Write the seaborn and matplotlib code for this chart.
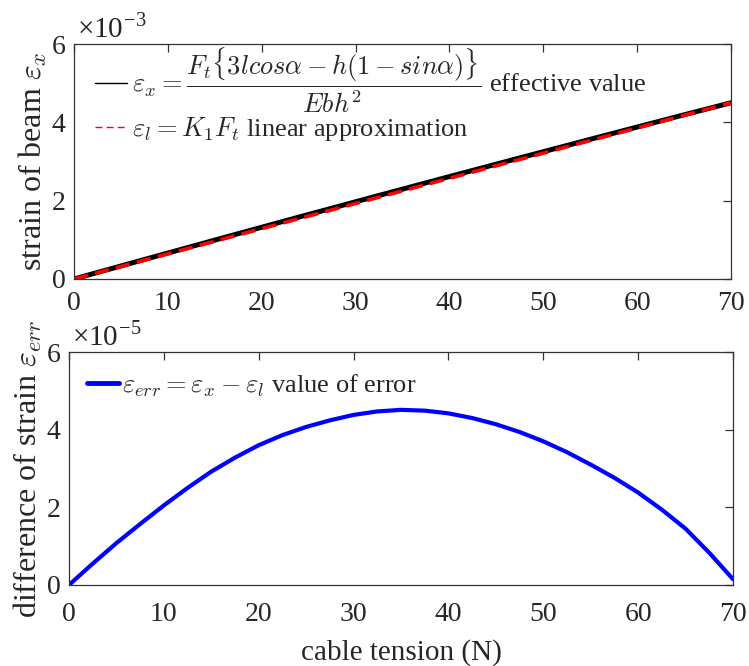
import numpy as np
import pandas as pd
import seaborn as sns
import matplotlib
matplotlib.use("Agg")
import matplotlib.pyplot as plt
from matplotlib.ticker import FuncFormatter

# ---- data ----
tension = [0, 2.5, 5, 7.5, 10, 12.5, 15, 17.5, 20, 22.5, 25, 27.5, 30, 32.5, 35,
           37.5, 40, 42.5, 45, 47.5, 50, 52.5, 55, 57.5, 60, 62.5, 65, 67.5, 70]
# strain values in units of 1e-3
strain_effective_e3 = [0.000, 0.167, 0.332, 0.498, 0.663, 0.828, 0.993, 1.158,
                       1.321, 1.485, 1.648, 1.809, 1.972, 2.134, 2.294, 2.455,
                       2.615, 2.774, 2.933, 3.092, 3.250, 3.408, 3.566, 3.723,
                       3.880, 4.036, 4.192, 4.346, 4.500]
strain_linear_e3 = [0.000, 0.161, 0.321, 0.482, 0.643, 0.803, 0.964, 1.125,
                    1.285, 1.446, 1.607, 1.767, 1.928, 2.089, 2.249, 2.410,
                    2.571, 2.731, 2.892, 3.053, 3.213, 3.374, 3.535, 3.695,
                    3.856, 4.017, 4.177, 4.338, 4.499]
# strain difference in units of 1e-5
strain_error_e5 = [0.00, 0.55, 1.08, 1.57, 2.05, 2.50, 2.92, 3.28, 3.60, 3.86,
                   4.07, 4.24, 4.38, 4.47, 4.51, 4.49, 4.42, 4.30, 4.14, 3.94,
                   3.70, 3.42, 3.10, 2.76, 2.38, 1.94, 1.45, 0.83, 0.15]

xticks = [0, 10, 20, 30, 40, 50, 60, 70]
yticks = [0, 2, 4, 6]

label_eff = (r"$\varepsilon_x=\dfrac{F_t\{3lcos\alpha-h(1-sin\alpha)\}}{Ebh^2}$"
             " effective value")
label_lin = r"$\varepsilon_l=K_1F_t$ linear approximation"
label_err = r"$\varepsilon_{err}=\varepsilon_x-\varepsilon_l$ value of error"

sns.set_style("white")
plt.rcParams["font.family"] = ["Liberation Serif", "DejaVu Serif"]
plt.rcParams["mathtext.fontset"] = "cm"
plt.rcParams["axes.unicode_minus"] = False

df_top = pd.DataFrame({
    "tension": tension,
    "effective": np.array(strain_effective_e3) * 1e-3,
    "linear": np.array(strain_linear_e3) * 1e-3,
})
df_bot = pd.DataFrame({
    "tension": tension,
    "error": np.array(strain_error_e5) * 1e-5,
})

fig = plt.figure(figsize=(7.49, 6.66), dpi=100)
ax1 = fig.add_axes([74 / 749, 1 - 279 / 666, 657 / 749, 235 / 666])
ax2 = fig.add_axes([69 / 749, 1 - 585 / 666, 664 / 749, 233 / 666])

sns.lineplot(data=df_top, x="tension", y="effective", ax=ax1, color="black",
             linewidth=3.6, label=label_eff)
sns.lineplot(data=df_top, x="tension", y="linear", ax=ax1, color="red",
             linewidth=2.6, linestyle="--", label=label_lin)
ax1.lines[1].set_dashes((4, 2))

sns.lineplot(data=df_bot, x="tension", y="error", ax=ax2, color="blue",
             linewidth=3.0, label=label_err)

edge = "#333333"
for ax, scale, exp, xpad in ((ax1, 1e-3, "-3", 9), (ax2, 1e-5, "-5", 12)):
    ax.set_xlim(0, 70)
    ax.set_ylim(0, 6 * scale)
    ax.set_xticks(xticks)
    ax.set_yticks([t * scale for t in yticks])
    ax.yaxis.set_major_formatter(FuncFormatter(lambda v, p, s=scale: f"{v / s:g}"))
    ax.tick_params(direction="in", length=6, width=0.9, colors=edge,
                   top=True, right=True, labelsize=20, labelcolor="#262626")
    ax.tick_params(axis="x", pad=xpad)
    ax.tick_params(axis="y", pad=6)
    for sp in ax.spines.values():
        sp.set_color(edge)
        sp.set_linewidth(0.9)
    ax.annotate("×10$^{\\mathdefault{" + exp + "}}$", xy=(0, 1),
                xycoords="axes fraction", xytext=(2, 5),
                textcoords="offset points", ha="left", va="baseline",
                fontsize=21, color="#262626")

ax1.set_xlabel("")
ax1.set_ylabel(r"strain of beam $\varepsilon_x$", fontsize=23, labelpad=2)
ax2.set_xlabel("cable tension (N)", fontsize=21, labelpad=9)
ax2.set_ylabel(r"difference of strain $\varepsilon_{err}$", fontsize=23, labelpad=2)

leg1 = ax1.legend(loc="upper left", frameon=False, fontsize=19,
                  handlelength=1.2, handletextpad=0.2, labelspacing=0.0,
                  borderaxespad=0.4, bbox_to_anchor=(0, 1 + 19 / 235))
lh = leg1.get_lines()
lh[0].set_linewidth(1.0)
lh[1].set_linewidth(1.0)
lh[1].set_dashes((5, 3))

leg2 = ax2.legend(loc="upper left", frameon=False, fontsize=19,
                  handlelength=1.2, handletextpad=0.1, borderaxespad=0.3,
                  bbox_to_anchor=(0, 1 - 2 / 233))
leg2.get_lines()[0].set_linewidth(3.5)

fig.savefig("out.png", dpi=100)
